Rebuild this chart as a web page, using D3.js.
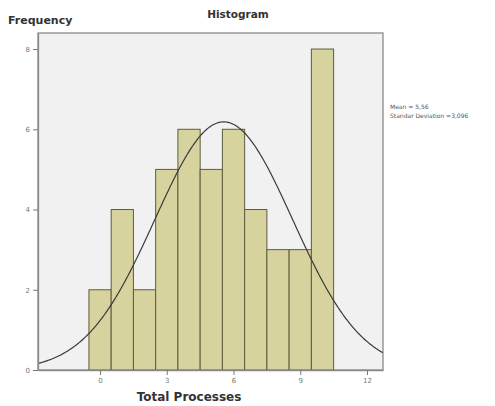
<!DOCTYPE html>
<html><head><meta charset="utf-8">
<script src="https://cdn.jsdelivr.net/npm/d3@7"></script>
<style>body{margin:0;background:#fff;} svg{display:block;}</style>
</head><body>
<svg id="c" width="495" height="406"></svg>
<script>
const binCenters = [0,1,2,3,4,5,6,7,8,9,10];
const frequencies = [2,4,2,5,6,5,6,4,3,3,8];
const xTicks = [0,3,6,9,12];
const yTicks = [0,2,4,6,8];
const meanVal = 5.56;
const sdVal = 3.096;
const nTotal = 48;
const legendLines = ["Mean = 5,56","Standar Deviation =3,096"];

const svg = d3.select("#c");
const L=38,R=383,T=33,B=370;
const x = d3.scaleLinear().domain([-2.79,12.72]).range([L,R]);
const y = d3.scaleLinear().domain([0,8.4]).range([B,T]);

svg.append("rect").attr("x",L).attr("y",T).attr("width",R-L).attr("height",B-T)
  .attr("fill","#f1f1f1").attr("stroke","#8a8a8a").attr("stroke-width",1.3);

svg.selectAll("rect.bar").data(binCenters).enter().append("rect").attr("class","bar")
  .attr("x",(d)=>x(d-0.5)).attr("width",(d)=>x(d+0.5)-x(d-0.5))
  .attr("y",(d,i)=>y(frequencies[i])).attr("height",(d,i)=>B-y(frequencies[i]))
  .attr("fill","#d6d39e").attr("stroke","#5e5c3c").attr("stroke-width",1);

const pts = d3.range(-2.79,12.72,0.05);
const norm = v => nTotal/(sdVal*Math.sqrt(2*Math.PI))*Math.exp(-0.5*Math.pow((v-meanVal)/sdVal,2));
svg.append("path").datum(pts)
  .attr("d",d3.line().x(d=>x(d)).y(d=>y(norm(d))))
  .attr("fill","none").attr("stroke","#3a3a3a").attr("stroke-width",1.2);

const xa = svg.append("g").attr("transform",`translate(0,${B})`)
  .call(d3.axisBottom(x).tickValues(xTicks).tickSize(5).tickSizeOuter(0));
const ya = svg.append("g").attr("transform",`translate(${L},0)`)
  .call(d3.axisLeft(y).tickValues(yTicks).tickSize(5).tickSizeOuter(0));
[xa,ya].forEach(a=>{
  a.select(".domain").attr("stroke","#8a8a8a").attr("stroke-width",1.3);
  a.selectAll(".tick line").attr("stroke","#777");
  a.selectAll("text").attr("fill","#777").attr("font-size","7px").attr("font-family","DejaVu Sans");
});

svg.append("text").attr("x",238).attr("y",18).attr("text-anchor","middle")
  .attr("font-family","DejaVu Sans").attr("font-weight","bold").attr("font-size","10.5px")
  .attr("fill","#333").text("Histogram");
svg.append("text").attr("x",8).attr("y",24)
  .attr("font-family","DejaVu Sans").attr("font-weight","bold").attr("font-size","11px")
  .attr("fill","#333").text("Frequency");
svg.append("text").attr("x",189).attr("y",401).attr("text-anchor","middle")
  .attr("font-family","DejaVu Sans").attr("font-weight","bold").attr("font-size","12px")
  .attr("fill","#333").text("Total Processes");
svg.selectAll("text.leg").data(legendLines).enter().append("text").attr("class","leg")
  .attr("x",390).attr("y",(d,i)=>109+i*9)
  .attr("font-family","DejaVu Sans").attr("font-size","6px").attr("fill","#555").text(d=>d);
</script>
</body></html>
